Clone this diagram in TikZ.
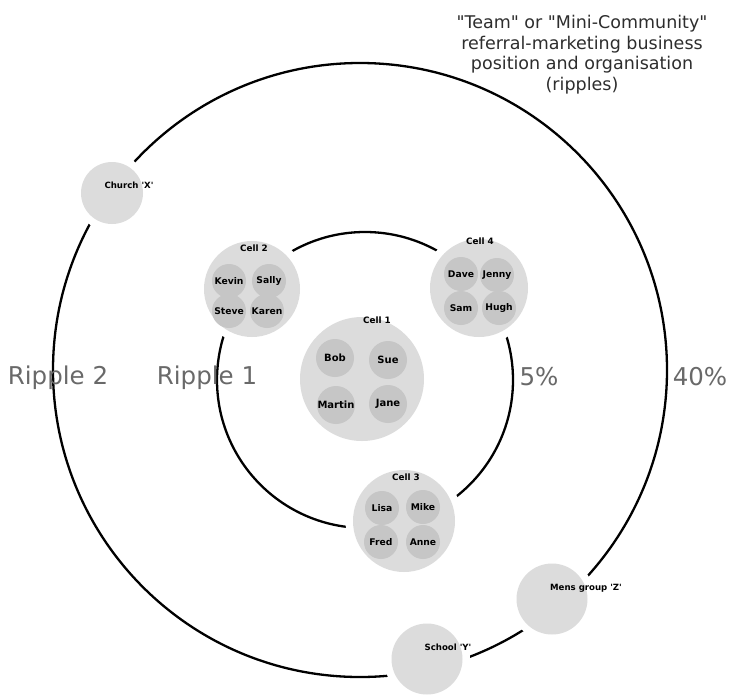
\documentclass[tikz,border=0pt]{standalone}
\usepackage{fontspec}
\setmainfont{DejaVu Sans}
\newfontfamily\dv{DejaVu Sans}
\definecolor{bigc}{RGB}{220,220,220}
\definecolor{smallc}{RGB}{198,198,198}
\definecolor{titlec}{RGB}{45,45,45}
\definecolor{ripc}{RGB}{105,105,105}
\begin{document}
\begin{tikzpicture}[x=1pt,y=-1pt,
  ring/.style={draw=black, line width=2.3pt},
  blob/.style={circle, fill=bigc, inner sep=0pt, preaction={draw=white, line width=15pt}},
  person/.style={circle, fill=smallc, inner sep=0pt, minimum size=34pt, font=\dv\bfseries\fontsize{9.2}{11}\selectfont},
  bigperson/.style={person, minimum size=38pt, font=\dv\bfseries\fontsize{10}{12}\selectfont},
  celllabel/.style={font=\dv\bfseries\fontsize{8.8}{10}\selectfont},
  grouplabel/.style={font=\dv\bfseries\fontsize{8.6}{10}\selectfont},
  ripple/.style={text=ripc, font=\dv\fontsize{24.5}{28}\selectfont},
]
\useasboundingbox (0,0) rectangle (731,694);
% rings
\draw[ring] (360,370) circle (307pt);
\draw[ring] (365,380) circle (148pt);
% title
\node[text=titlec, align=center, font=\dv\fontsize{17.5}{20.5}\selectfont, anchor=north] (title) at (582,12)
  {"Team" or "Mini-Community"\\referral-marketing business\\position and organisation\\(ripples)};
% ripple labels
\node[ripple] (r2) at (58,378) {Ripple 2};
\node[ripple] (r1) at (207,378) {Ripple 1};
\node[ripple] (p5) at (539,377) {5\%};
\node[ripple] (p40) at (700,377) {40\%};
% outer groups
\node[blob, minimum size=62pt] (church) at (112,193) {};
\node[grouplabel] (churchl) at (129,185) {Church 'X'};
\node[blob, minimum size=71pt] (mens) at (552,599) {};
\node[grouplabel] (mensl) at (586,588) {Mens group 'Z'};
\node[blob, minimum size=71pt] (school) at (427,659) {};
\node[grouplabel] (schooll) at (448,647) {School 'Y'};
% Cell 1
\node[blob, minimum size=124pt] (cell1) at (362,379) {};
\node[celllabel] (c1l) at (377,320) {Cell 1};
\node[bigperson] (bob) at (335,358) {Bob};
\node[bigperson] (sue) at (388,360) {Sue};
\node[bigperson] (martin) at (336,405) {Martin};
\node[bigperson] (jane) at (388,404) {Jane};
% Cell 2
\node[blob, minimum size=96pt] (cell2) at (252,289) {};
\node[celllabel] (c2l) at (254,248) {Cell 2};
\node[person] (kevin) at (229,281) {Kevin};
\node[person] (sally) at (269,281) {Sally};
\node[person] (steve) at (229,311) {Steve};
\node[person] (karen) at (267,311) {Karen};
% Cell 4
\node[blob, minimum size=98pt] (cell4) at (479,288) {};
\node[celllabel] (c4l) at (480,241) {Cell 4};
\node[person] (dave) at (461,274) {Dave};
\node[person] (jenny) at (497,275) {Jenny};
\node[person] (sam) at (461,308) {Sam};
\node[person] (hugh) at (499,308) {Hugh};
% Cell 3
\node[blob, minimum size=102pt] (cell3) at (404,521) {};
\node[celllabel] (c3l) at (406,477) {Cell 3};
\node[person] (lisa) at (382,508) {Lisa};
\node[person] (mike) at (423,507) {Mike};
\node[person] (fred) at (381,542) {Fred};
\node[person] (anne) at (423,542) {Anne};
\end{tikzpicture}
\end{document}
